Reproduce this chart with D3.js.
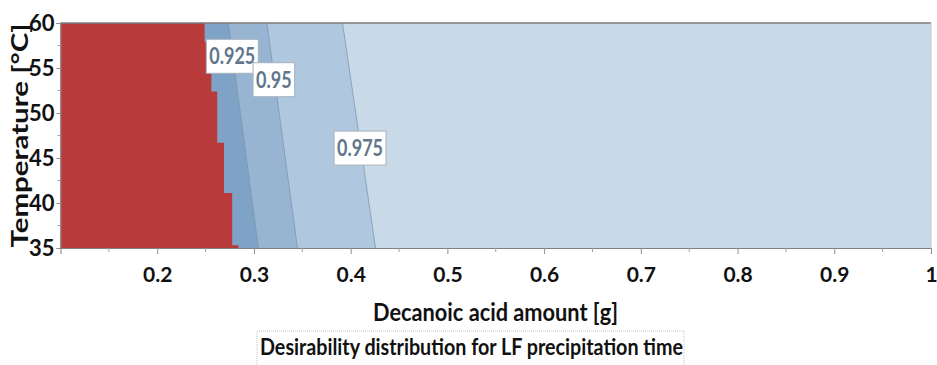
<!DOCTYPE html>
<html>
<head>
<meta charset="utf-8">
<script src="https://cdn.jsdelivr.net/npm/d3@7"></script>
<style>
  body { margin: 0; background: #fff; }
  text { font-family: Lato, "Open Sans", sans-serif; font-weight: bold; }
</style>
</head>
<body>
<div id="chart-area"></div>
<script>
// desirability contour plot

const WIDTH = 937;
const HEIGHT = 365;

// tick values
const xTicks = [0.2, 0.3, 0.4, 0.5, 0.6, 0.7, 0.8, 0.9, 1];
const yTicks = [35, 40, 45, 50, 55, 60];

// contour lines (desirability level, x at 60 °C, x at 35 °C)
const contourLevels = [0.925, 0.95, 0.975];
const contourXTop = [0.2735, 0.3134, 0.3916];
const contourXBottom = [0.3046, 0.345, 0.4257];
const bandColors = ["#7fa3c6", "#97b5d3", "#afc7df", "#c8d9e8"];

// label positions for each level
const labelX = [0.2776, 0.3206, 0.4097];
const labelT = [56.3, 53.7, 46.1];

// stepped edge of the red (undesired) area: temperature where step starts, x of edge
const redStepT = [60, 57.9, 52.4, 46.7, 41.1, 35.3];
const redStepX = [0.249, 0.256, 0.262, 0.269, 0.2775, 0.284];

const margin = {left: 60.5, right: 6, top: 23, bottom: 117};

let svg = d3.select("#chart-area").append("svg")
    .attr("width", WIDTH)
    .attr("height", HEIGHT);

let x = d3.scaleLinear().domain([0.1, 1]).range([margin.left, WIDTH - margin.right]);
let y = d3.scaleLinear().domain([35, 60]).range([HEIGHT - margin.bottom, margin.top]);

const x0 = x(0.1), x1 = x(1), yTop = y(60), yBot = y(35);

// base band
svg.append("rect")
    .attr("x", x0).attr("y", yTop)
    .attr("width", x1 - x0).attr("height", yBot - yTop)
    .attr("fill", bandColors[0]);

// bands right of each contour line
contourLevels.forEach((lvl, i) => {
    svg.append("path")
        .attr("d", d3.line()([
            [x(contourXTop[i]), yTop], [x1, yTop], [x1, yBot], [x(contourXBottom[i]), yBot]
        ]) + "Z")
        .attr("fill", bandColors[i + 1]);
});

// contour lines
contourLevels.forEach((lvl, i) => {
    svg.append("line")
        .attr("x1", x(contourXTop[i])).attr("y1", yTop)
        .attr("x2", x(contourXBottom[i])).attr("y2", yBot)
        .attr("stroke", "#7f93a8")
        .attr("stroke-opacity", 0.75)
        .attr("stroke-width", 1);
});

// red region with steps
let redPts = [[x0, yTop]];
redStepT.forEach((t, i) => {
    let tEnd = i < redStepT.length - 1 ? redStepT[i + 1] : 35;
    redPts.push([x(redStepX[i]), y(t)]);
    redPts.push([x(redStepX[i]), y(tEnd)]);
});
redPts.push([x0, yBot]);
svg.append("path")
    .attr("d", d3.line()(redPts) + "Z")
    .attr("fill", "#b83a3a");

// contour labels
contourLevels.forEach((lvl, i) => {
    let g = svg.append("g")
        .attr("transform", `translate(${x(labelX[i])},${y(labelT[i])})`);
    let rect = g.append("rect");
    let t = g.append("text")
        .attr("text-anchor", "middle")
        .attr("dy", "0.36em")
        .attr("font-size", 20)
        .attr("fill", "#62768b")
        .attr("transform", "scale(0.9,1.1)")
        .text(lvl);
    let bb = t.node().getBBox();
    let w = bb.width * 0.9 + 6;
    rect.attr("x", -w / 2).attr("y", -17)
        .attr("width", w).attr("height", 34)
        .attr("fill", "#fff")
        .attr("stroke", "#a7b2bd")
        .attr("stroke-width", 1);
});

// frame
svg.append("line").attr("x1", x0).attr("x2", x1).attr("y1", yTop).attr("y2", yTop)
    .attr("stroke", "#7d7d7d").attr("stroke-width", 1.5);
svg.append("line").attr("x1", x1).attr("x2", x1).attr("y1", yTop).attr("y2", yBot)
    .attr("stroke", "#c4c4c4").attr("stroke-width", 1);

// x axis
let xAxis = svg.append("g")
    .attr("transform", `translate(0,${yBot})`)
    .call(d3.axisBottom(x).tickValues(xTicks).tickFormat(d3.format("")).tickSize(6).tickPadding(13));
xAxis.select(".domain").attr("stroke", "#808080");
xAxis.selectAll(".tick line").attr("stroke", "#909090");
xAxis.selectAll("text").attr("font-size", 21).attr("fill", "#111")
    .attr("font-family", "Lato, sans-serif");
// minor x ticks
xAxis.selectAll(".minor")
    .data(d3.range(0.15, 1, 0.1))
    .enter().append("line")
    .attr("x1", d => x(d)).attr("x2", d => x(d))
    .attr("y1", 0).attr("y2", 4)
    .attr("stroke", "#a0a0a0");

// y axis
let yAxis = svg.append("g")
    .attr("transform", `translate(${x0},0)`)
    .call(d3.axisLeft(y).tickValues(yTicks).tickSize(4).tickPadding(2));
yAxis.select(".domain").attr("stroke", "#808080");
yAxis.selectAll(".tick line").attr("stroke", "#909090");
yAxis.selectAll("text").attr("font-size", 22).attr("fill", "#111")
    .attr("font-family", "Lato, sans-serif");
yAxis.selectAll(".minor")
    .data(d3.range(37.5, 60, 5))
    .enter().append("line")
    .attr("x1", 0).attr("x2", -3)
    .attr("y1", d => y(d)).attr("y2", d => y(d))
    .attr("stroke", "#a0a0a0");

// axis titles
svg.append("text")
    .attr("x", 373).attr("y", 321)
    .attr("font-size", 24)
    .attr("textLength", 245)
    .attr("lengthAdjust", "spacingAndGlyphs")
    .attr("fill", "#111")
    .text("Decanoic acid amount [g]");

svg.append("text")
    .attr("transform", `translate(28,${(yTop + yBot) / 2}) rotate(-90)`)
    .attr("text-anchor", "middle")
    .attr("font-size", 22)
    .attr("textLength", 224)
    .attr("lengthAdjust", "spacingAndGlyphs")
    .attr("fill", "#111")
    .text("Temperature [°C]");

// chart title in dotted box
svg.append("rect")
    .attr("x", 257).attr("y", 331)
    .attr("width", 427).attr("height", 45)
    .attr("fill", "none")
    .attr("stroke", "#b7c7d8")
    .attr("stroke-dasharray", "1,1");

svg.append("text")
    .attr("x", 260).attr("y", 355)
    .attr("font-size", 23)
    .attr("textLength", 423)
    .attr("lengthAdjust", "spacingAndGlyphs")
    .attr("fill", "#111")
    .text("Desirability distribution for LF precipitation time");
</script>
</body>
</html>
